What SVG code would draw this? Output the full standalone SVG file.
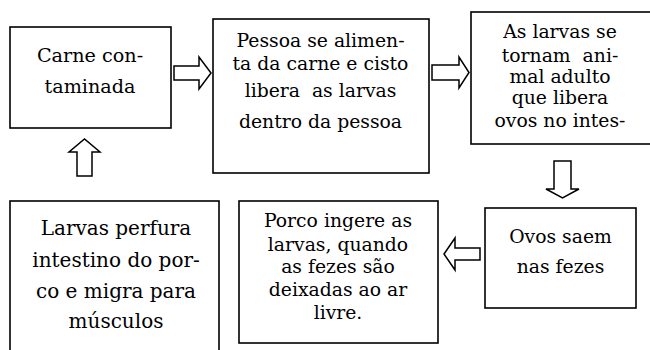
<svg xmlns="http://www.w3.org/2000/svg" width="650" height="350" viewBox="0 0 650 350">
<style>
.box{fill:#fff;stroke:#000;stroke-width:1.6}
.arr{fill:#fff;stroke:#000;stroke-width:1.5;stroke-linejoin:miter}
.n text{fill:#000;text-anchor:middle}
</style>
<rect width="650" height="350" fill="#fff"/>
<g id="connectors">
<polygon class="arr" points="174,66 199,66 199,57 211,73 199,89 199,80 174,80"/>
<polygon class="arr" points="432,65 459,65 459,57 469,72.5 459,88 459,80 432,80"/>
<polygon class="arr" points="554,161 571,161 571,189 579,189 562.5,198 546,189 554,189"/>
<polygon class="arr" points="480,248 455,248 455,238 444,254 455,270 455,260 480,260"/>
<polygon class="arr" points="77,176 77,152 69,152 84.5,139 100,152 92,152 92,176"/>
</g>
<g id="n1" class="n" font-family="DejaVu Serif" font-size="19.2">
<rect class="box" x="10" y="27" width="161" height="101"/>
<text x="90" y="62">Carne con-</text>
<text x="90" y="93">taminada</text>
</g>
<g id="n2" class="n" font-family="DejaVu Serif" font-size="18.8">
<rect class="box" x="213" y="19" width="216" height="154"/>
<text x="320.5" y="47">Pessoa se alimen-</text>
<text x="320.5" y="70">ta da carne e cisto</text>
<text x="320.5" y="97" xml:space="preserve">libera  as larvas</text>
<text x="320.5" y="128">dentro da pessoa</text>
</g>
<g id="n3" class="n" font-family="DejaVu Serif" font-size="18.8">
<rect class="box" x="471" y="12" width="185" height="132"/>
<text x="560" y="38">As larvas se</text>
<text x="560" y="62" xml:space="preserve">tornam  ani-</text>
<text x="560" y="83">mal adulto</text>
<text x="560" y="104">que libera</text>
<text x="560" y="127">ovos no intes-</text>
</g>
<g id="n4" class="n" font-family="DejaVu Serif" font-size="20">
<rect class="box" x="10" y="201" width="209" height="160"/>
<text x="116" y="235">Larvas perfura</text>
<text x="116" y="267">intestino do por-</text>
<text x="116" y="298">co e migra para</text>
<text x="116" y="328">músculos</text>
</g>
<g id="n5" class="n" font-family="DejaVu Serif" font-size="18.8">
<rect class="box" x="239" y="201" width="199" height="142"/>
<text x="338" y="227">Porco ingere as</text>
<text x="338" y="251">larvas, quando</text>
<text x="338" y="273">as fezes são</text>
<text x="338" y="296">deixadas ao ar</text>
<text x="338" y="319">livre.</text>
</g>
<g id="n6" class="n" font-family="DejaVu Serif" font-size="18.8">
<rect class="box" x="485" y="208" width="151" height="100"/>
<text x="560.5" y="243">Ovos saem</text>
<text x="560.5" y="273">nas fezes</text>
</g>
</svg>
